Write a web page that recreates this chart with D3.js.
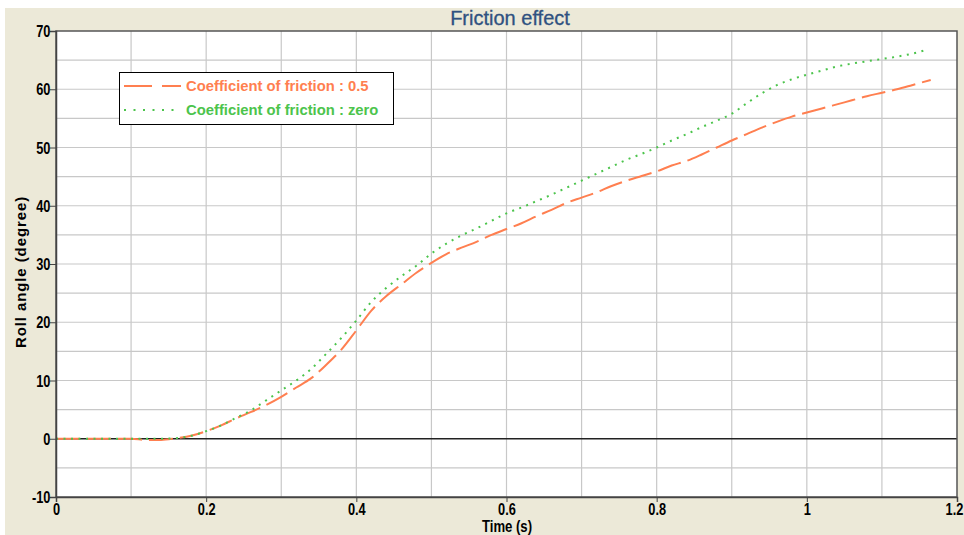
<!DOCTYPE html>
<html><head><meta charset="utf-8">
<script src="https://cdn.jsdelivr.net/npm/d3@7/dist/d3.min.js"></script>
<style>
html,body{margin:0;padding:0;background:#fff;}
svg{display:block;}
.tick text{font-family:"Liberation Sans",Arial,sans-serif;font-weight:bold;font-size:16px;fill:#000;}
</style></head>
<body>
<svg id="chart" width="964" height="535"></svg>
<script>
const title = "Friction effect";
const xLabel = "Time (s)";
const yLabel = "Roll angle (degree)";
const seriesNames = ["Coefficient of friction : 0.5", "Coefficient of friction : zero"];
const xTicks = [0, 0.2, 0.4, 0.6, 0.8, 1, 1.2];
const yTicks = [-10, 0, 10, 20, 30, 40, 50, 60, 70];

const timeFriction = [0,0.05,0.1,0.12,0.14,0.16,0.18,0.2,0.22,0.24,0.26,0.28,0.3,0.32,0.34,0.36,0.38,0.4,0.42,0.44,0.46,0.48,0.5,0.52,0.54,0.56,0.58,0.6,0.62,0.64,0.66,0.68,0.7,0.72,0.74,0.76,0.78,0.8,0.82,0.84,0.86,0.88,0.9,0.92,0.94,0.96,0.98,1.0,1.02,1.04,1.06,1.08,1.1,1.12,1.14,1.165];
const rollFriction = [0,0,0,-0.2,-0.2,0.1,0.5,1.3,2.3,3.5,4.6,5.8,7.2,8.8,10.4,12.7,15.3,18.6,22,24.5,26.5,28.5,30.2,31.7,32.8,33.8,35,36,37,38.2,39.3,40.5,41.4,42.3,43.4,44.3,45.1,45.9,46.9,47.7,48.8,50,51.2,52.3,53.4,54.4,55.3,56,56.7,57.4,58.1,58.8,59.4,60,60.7,61.6];

const timeZero = [0,0.05,0.1,0.12,0.14,0.16,0.18,0.2,0.22,0.24,0.26,0.28,0.3,0.32,0.34,0.36,0.38,0.4,0.42,0.44,0.46,0.48,0.5,0.52,0.54,0.56,0.58,0.6,0.62,0.64,0.66,0.68,0.7,0.72,0.74,0.76,0.78,0.8,0.82,0.84,0.86,0.88,0.9,0.92,0.94,0.96,0.98,1.0,1.02,1.04,1.06,1.08,1.1,1.12,1.14,1.16];
const rollZero = [0,0,0,0,0,0.1,0.5,1.3,2.3,3.6,4.9,6.6,8.3,10,12,14.6,17.3,20.3,23.5,25.9,27.9,29.7,31.8,33.5,34.9,36.1,37.4,38.7,39.7,40.8,41.9,43.1,44.3,45.5,46.7,47.9,48.9,50,51.2,52.3,53.5,54.6,55.8,57.6,59.3,60.7,61.7,62.5,63.2,63.9,64.4,64.8,65.2,65.6,66.1,66.8];

const svg = d3.select("#chart");
const W = 964, H = 535;
const m = {left:56, right:7, top:31, bottom:38};
const pw = W - m.left - m.right, ph = H - m.top - m.bottom;

// beige panel
svg.append("rect").attr("x",5).attr("y",8).attr("width",W-5).attr("height",H-8).attr("fill","#ece9d8");

const x = d3.scaleLinear().domain([0,1.2]).range([m.left, m.left+pw]);
const y = d3.scaleLinear().domain([-10,70]).range([m.top+ph, m.top]);

svg.append("rect").attr("x",m.left).attr("y",m.top).attr("width",pw).attr("height",ph).attr("fill","#fff");

// grid
const g = svg.append("g");
g.selectAll("line.vx").data(d3.range(1,12).map(i=>i/10)).join("line")
  .attr("x1",d=>x(d)).attr("x2",d=>x(d)).attr("y1",m.top).attr("y2",m.top+ph)
  .attr("stroke","#c8c8c8").attr("stroke-width",1.2);
g.selectAll("line.hy").data(d3.range(-5,70,5)).join("line")
  .attr("y1",d=>y(d)).attr("y2",d=>y(d)).attr("x1",m.left).attr("x2",m.left+pw)
  .attr("stroke",d=>d===0?"#222":"#c8c8c8").attr("stroke-width",d=>d===0?1.3:1.2);

// lines
const line = d3.line().x(d=>x(d[0])).y(d=>y(d[1])).curve(d3.curveMonotoneX);
const dataF = timeFriction.map((t,i)=>[t, rollFriction[i]]);
const dataZ = timeZero.map((t,i)=>[t, rollZero[i]]);
const colF = "#ff7f50", colZ = "#4cc44c";
svg.append("path").datum(dataF).attr("d",line).attr("fill","none")
  .attr("stroke",colF).attr("stroke-width",2).attr("stroke-dasharray","24,7");
svg.append("path").datum(dataZ).attr("d",line).attr("fill","none")
  .attr("stroke",colZ).attr("stroke-width",2).attr("stroke-dasharray","2,5.5");

// frame
svg.append("rect").attr("x",m.left).attr("y",m.top).attr("width",pw).attr("height",ph)
  .attr("fill","none").attr("stroke","#555").attr("stroke-width",1.5);

// axes
const xAxis = svg.append("g").attr("transform",`translate(0,${m.top+ph})`)
  .call(d3.axisBottom(x).tickValues(xTicks).tickSize(5).tickPadding(2).tickFormat(d=>String(d)));
const yAxis = svg.append("g").attr("transform",`translate(${m.left},0)`)
  .call(d3.axisLeft(y).tickValues(yTicks).tickSize(6).tickPadding(1).tickFormat(d=>String(d)));
[xAxis,yAxis].forEach(a=>{a.select(".domain").attr("stroke","#444").attr("stroke-width",1.5);
  a.selectAll(".tick line").attr("stroke","#444");});
xAxis.selectAll(".tick text").attr("transform",(d,i)=>`translate(${d===1.2?-3:0},0) scale(0.8,1)`);
yAxis.selectAll(".tick text").attr("dy","0.35em").attr("transform","scale(0.8,1)");

// title and labels
svg.append("text").attr("x",510).attr("y",25).attr("text-anchor","middle")
  .attr("font-family","'Liberation Sans',Arial,sans-serif").attr("font-size",20)
  .attr("stroke","#2f5180").attr("stroke-width",0.3)
  .attr("fill","#2f5180").text(title);
svg.append("text").attr("x",507).attr("y",532).attr("text-anchor","middle")
  .attr("font-family","'Liberation Sans',Arial,sans-serif").attr("font-weight","bold").attr("font-size",16)
  .attr("transform","translate(507,0) scale(0.82,1) translate(-507,0)")
  .text(xLabel);
svg.append("text").attr("transform","translate(26,272) rotate(-90)").attr("text-anchor","middle")
  .attr("font-family","'Liberation Sans',Arial,sans-serif").attr("font-weight","bold").attr("font-size",15)
  .attr("letter-spacing","0.9px")
  .text(yLabel);

// legend
const lg = svg.append("g");
lg.append("rect").attr("x",119.5).attr("y",72.5).attr("width",274).attr("height",52)
  .attr("fill","#fff").attr("stroke","#000").attr("stroke-width",1);
const items = [{name:seriesNames[0], col:colF, dash:"28,10"},{name:seriesNames[1], col:colZ, dash:"2,7.5"}];
items.forEach((it,i)=>{
  const yy = 86 + i*24;
  lg.append("line").attr("x1",124).attr("x2",181).attr("y1",yy).attr("y2",yy)
    .attr("stroke",it.col).attr("stroke-width",2).attr("stroke-dasharray",it.dash);
  lg.append("text").attr("x",186).attr("y",yy).attr("dy","0.36em")
    .attr("font-family","'Liberation Sans',Arial,sans-serif").attr("font-weight","bold").attr("font-size",14.8)
    .attr("fill",it.col).text(it.name);
});
</script>
</body></html>
